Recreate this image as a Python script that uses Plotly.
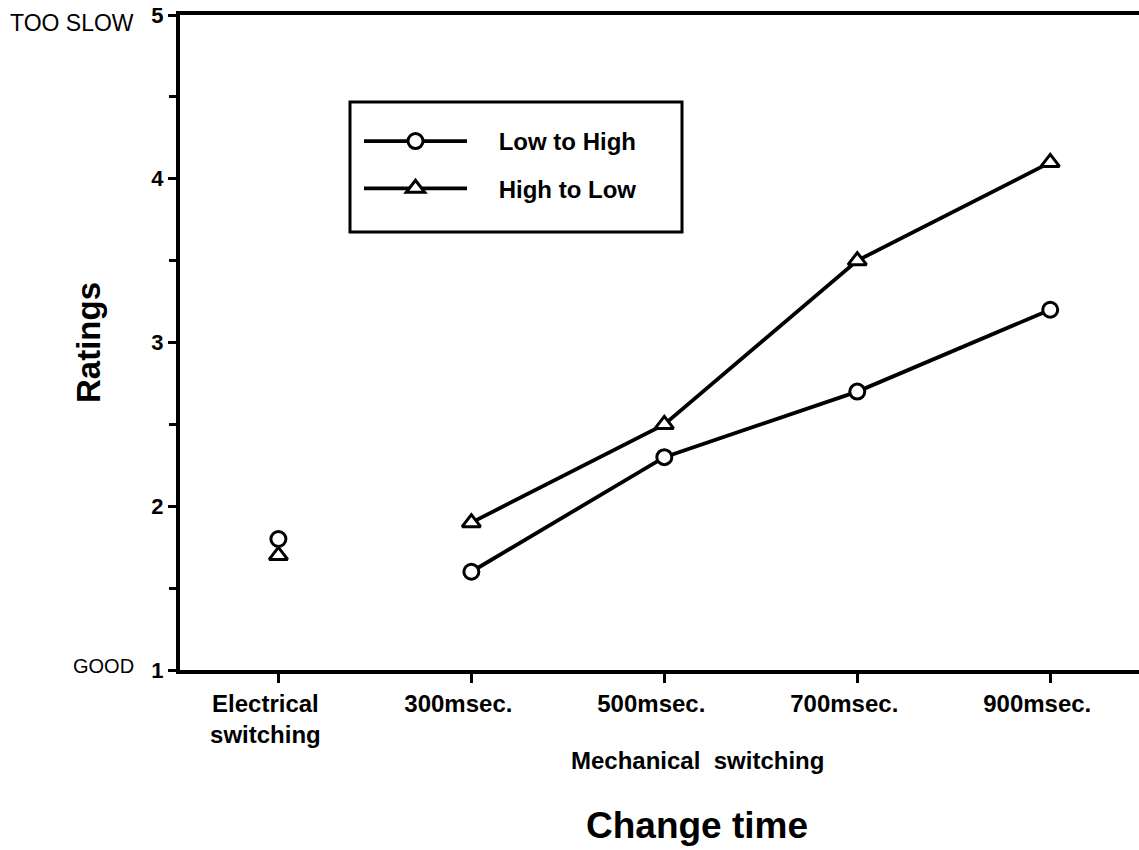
import plotly.graph_objects as go

categories = ["Electrical<br>switching", "300msec.", "500msec.", "700msec.", "900msec."]
low_to_high = [1.8, 1.6, 2.3, 2.7, 3.2]
high_to_low = [1.7, 1.9, 2.5, 3.5, 4.1]
y_ticks = [1, 2, 3, 4, 5]

FONT = "Liberation Sans, Arial, sans-serif"
NB = "\u00a0"
xi = list(range(len(categories)))

fig = go.Figure()
series = [("Low to High", low_to_high, "circle", 15), ("High to Low", high_to_low, "triangle-up", 16)]
for name, vals, sym, sz in series:
    mk = dict(symbol=sym, size=sz, color="white", line=dict(width=3, color="black"))
    fig.add_trace(go.Scatter(
        x=xi[1:], y=vals[1:], mode="lines+markers", name=NB * 4 + "<b>" + name + "</b>",
        legendgroup=name, line=dict(color="black", width=3.8), marker=mk,
    ))
    fig.add_trace(go.Scatter(
        x=xi[:1], y=vals[:1], mode="markers", name=name, legendgroup=name, showlegend=False,
        marker=mk,
    ))

fig.update_layout(
    width=1139, height=850,
    margin=dict(l=180, r=0, t=15, b=180, autoexpand=False),
    paper_bgcolor="white", plot_bgcolor="white",
    font=dict(family=FONT, color="black"),
    showlegend=True,
    legend=dict(
        x=(359 - 180) / 959, y=(670 - 165) / 655, xanchor="left", yanchor="middle",
        bgcolor="rgba(0,0,0,0)", borderwidth=0,
        font=dict(size=24, family=FONT, color="black"),
        itemwidth=103, traceorder="grouped", tracegroupgap=13,
    ),
    xaxis=dict(
        range=[-0.51, 4.46], tickmode="array", tickvals=xi,
        ticktext=["<b>" + c + "</b>" for c in categories],
        showline=True, linewidth=4, linecolor="black", mirror=True,
        ticks="outside", ticklen=9, tickwidth=2.5, tickcolor="black",
        showgrid=False, zeroline=False,
        tickfont=dict(size=24, family=FONT), ticklabelshift=-13,
    ),
    yaxis=dict(
        range=[1, 5], tickmode="array", tickvals=y_ticks,
        ticktext=["<b>" + str(v) + "</b>" for v in y_ticks],
        showline=True, linewidth=4, linecolor="black",
        ticks="outside", ticklen=8, tickwidth=2.5, tickcolor="black",
        minor=dict(dtick=0.5, tick0=1, ticks="outside", ticklen=7, tickwidth=2.5, tickcolor="black"),
        showgrid=False, zeroline=False,
        tickfont=dict(size=22, family=FONT),
        title=dict(text="<b>Ratings</b>", font=dict(size=33, family=FONT), standoff=42),
    ),
)

# legend box
fig.add_shape(type="rect", xref="paper", yref="paper",
              x0=(350 - 180) / 959, x1=(682 - 180) / 959,
              y0=(670 - 232) / 655, y1=(670 - 102) / 655,
              line=dict(color="black", width=3), fillcolor="rgba(0,0,0,0)")

fig.add_annotation(text="<b>Mechanical  switching</b>", xref="paper", yref="paper",
                   x=(697 - 180) / 959, y=-(760 - 670) / 655, showarrow=False,
                   xanchor="center", yanchor="middle", font=dict(size=24, family=FONT))
fig.add_annotation(text="<b>Change time</b>", xref="paper", yref="paper",
                   x=(697 - 180) / 959, y=-(826 - 670) / 655, showarrow=False,
                   xanchor="center", yanchor="middle", font=dict(size=37, family=FONT))
fig.add_annotation(text="TOO SLOW", xref="paper", yref="paper",
                   x=-(180 - 136) / 959, y=1.0 - 8 / 655, showarrow=False, xanchor="right", yanchor="middle",
                   font=dict(size=23, family=FONT))
fig.add_annotation(text="GOOD", xref="paper", yref="paper",
                   x=-(180 - 136) / 959, y=0.0 + 4 / 655, showarrow=False, xanchor="right", yanchor="middle",
                   font=dict(size=20, family=FONT))

fig.write_html("out.html", config={"displayModeBar": False},
               post_script="document.body.style.margin='0';document.body.style.overflow='hidden';")
